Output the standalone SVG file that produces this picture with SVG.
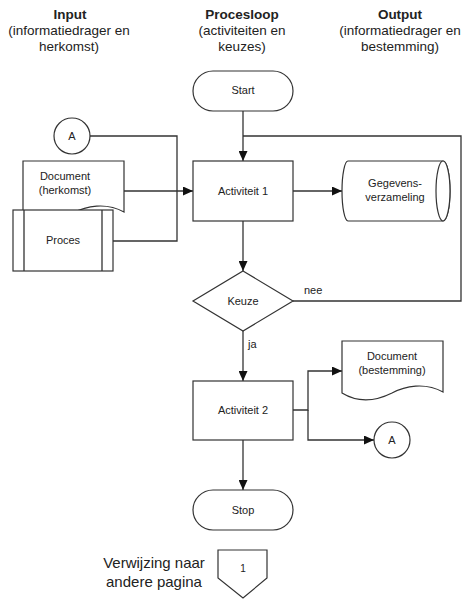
<svg xmlns="http://www.w3.org/2000/svg" width="474" height="609" viewBox="0 0 474 609">
<style>
text{font-family:"Liberation Sans",Arial,sans-serif;fill:#222;text-anchor:middle}
.h{font-size:13.5px}
.hb{font-size:13.5px;font-weight:bold}
.n{font-size:11px}
.s{fill:#fff;stroke:#333;stroke-width:1.2}
.c{fill:none;stroke:#333;stroke-width:1.3}
</style>
<defs>
<marker id="ar" markerUnits="userSpaceOnUse" markerWidth="10" markerHeight="9" refX="10" refY="4.5" orient="auto">
<path d="M0,0 L10,4.5 L0,9 Z" fill="#111"/>
</marker>
</defs>
<rect width="474" height="609" fill="#fff"/>
<g id="headers">
<text class="hb" x="70" y="19">Input</text>
<text class="h" x="69" y="35">(informatiedrager en</text>
<text class="h" x="69" y="51">herkomst)</text>
<text class="hb" x="242" y="19">Procesloop</text>
<text class="h" x="242" y="35">(activiteiten en</text>
<text class="h" x="242" y="51">keuzes)</text>
<text class="hb" x="400" y="19">Output</text>
<text class="h" x="400" y="35">(informatiedrager en</text>
<text class="h" x="400" y="51">bestemming)</text>
</g>
<g id="connectors">
<path class="c" d="M243,111 V161" marker-end="url(#ar)"/>
<path class="c" d="M293,301 H461 V136 H243"/>
<path class="c" d="M90,136 H177 V241 H113"/>
<path class="c" d="M124,191 H193" marker-end="url(#ar)"/>
<path class="c" d="M293,191 H342" marker-end="url(#ar)"/>
<path class="c" d="M243,221 V271" marker-end="url(#ar)"/>
<path class="c" d="M243,331 V381" marker-end="url(#ar)"/>
<path class="c" d="M293,410 H308 V371 H342" marker-end="url(#ar)"/>
<path class="c" d="M308,410 V440 H374" marker-end="url(#ar)"/>
<path class="c" d="M243,440 V490" marker-end="url(#ar)"/>
<text class="n" x="304" y="294" style="text-anchor:start">nee</text>
<text class="n" x="248" y="348" style="text-anchor:start">ja</text>
</g>
<g id="start">
<rect class="s" x="193" y="71" width="100" height="40" rx="20"/>
<text class="n" x="243" y="94">Start</text>
</g>
<g id="connA-in">
<circle class="s" cx="72" cy="136" r="18"/>
<text class="n" x="72" y="140">A</text>
</g>
<g id="doc-herkomst">
<path class="s" d="M23,161 H124 V212 C106,202 86,206 73,213 C59,220 41,224 23,213 Z"/>
<text class="n" x="65" y="180">Document</text>
<text class="n" x="65" y="194">(herkomst)</text>
</g>
<g id="proces">
<rect class="s" x="13" y="210" width="100" height="61"/>
<path class="c" d="M24,210 V271 M102,210 V271"/>
<text class="n" x="63" y="244">Proces</text>
</g>
<g id="activiteit1">
<rect class="s" x="193" y="161" width="100" height="60"/>
<text class="n" x="243" y="195">Activiteit 1</text>
</g>
<g id="gegevensverzameling">
<path class="s" d="M348,161 H443 A7,30 0 0 1 443,221 H348 A6,30 0 0 1 348,161 Z"/>
<ellipse class="s" cx="443" cy="191" rx="7" ry="30"/>
<text class="n" x="395" y="187">Gegevens-</text>
<text class="n" x="395" y="201">verzameling</text>
</g>
<g id="keuze">
<path class="s" d="M243,271 L293,301 L243,331 L193,301 Z"/>
<text class="n" x="243" y="305">Keuze</text>
</g>
<g id="activiteit2">
<rect class="s" x="193" y="381" width="100" height="59"/>
<text class="n" x="243" y="414">Activiteit 2</text>
</g>
<g id="doc-bestemming">
<path class="s" d="M342,341 H443 V392 C425,382 405,386 392,393 C378,400 360,404 342,393 Z"/>
<text class="n" x="392" y="360">Document</text>
<text class="n" x="392" y="374">(bestemming)</text>
</g>
<g id="connA-out">
<circle class="s" cx="392" cy="440" r="18"/>
<text class="n" x="392" y="444">A</text>
</g>
<g id="stop">
<rect class="s" x="193" y="490" width="100" height="40" rx="20"/>
<text class="n" x="243" y="514">Stop</text>
</g>
<g id="offpage">
<path class="s" d="M218,550 H267 V578 L243,598 L218,578 Z"/>
<text class="n" x="243" y="572" style="font-size:10px">1</text>
</g>
<g id="legend">
<text x="154" y="568" style="font-size:15px">Verwijzing naar</text>
<text x="154" y="587" style="font-size:15px">andere pagina</text>
</g>
</svg>
